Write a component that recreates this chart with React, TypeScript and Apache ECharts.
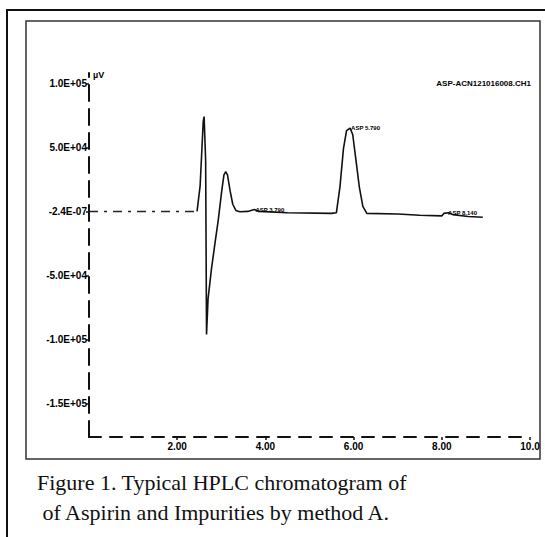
import React, { useEffect, useRef } from "react";
import * as echarts from "echarts";

// retention time (min) vs detector response (µV)
const baselineLead: [number, number][] = [
  [0, 0],
  [2.45, 0],
];

const trace: [number, number][] = [
  [2.45, 0], [2.52, 20000], [2.59, 70000], [2.61, 74000], [2.645, 40000],
  [2.665, -96000], [2.7, -68000], [2.78, -44000], [2.86, -24000], [2.93, -7000],
  [3.01, 16000], [3.06, 28500], [3.1, 31000], [3.14, 28500], [3.2, 16000],
  [3.26, 5600], [3.33, 800], [3.42, -200], [3.6, 0], [3.75, 1500], [3.85, 0],
  [4.5, -1000], [5.5, -1500], [5.61, -1000], [5.69, 19000], [5.77, 49000],
  [5.84, 63000], [5.92, 65000], [5.98, 60000], [6.05, 41000], [6.13, 19000],
  [6.21, 4000], [6.3, -1500], [7.0, -2000], [7.5, -3000], [8.0, -3500],
  [8.05, -1500], [8.15, -1000], [8.25, -2500], [8.6, -4000], [8.93, -4500],
];

const peakLabels: { name: string; t: number; v: number }[] = [
  { name: "ASP 3.790", t: 3.75, v: 1500 },
  { name: "ASP 5.790", t: 5.92, v: 65000 },
  { name: "ASP 8.140", t: 8.12, v: -1000 },
];

const yTickValues = [100000, 50000, 0, -50000, -100000, -150000];
const yTickLabels = ["1.0E+05", "5.0E+04", "-2.4E-07", "-5.0E+04", "-1.0E+05", "-1.5E+05"];
const xTickValues = [2, 4, 6, 8, 10];
const xTickLabels = ["2.00", "4.00", "6.00", "8.00", "10.0"];

const fileName = "ASP-ACN121016008.CH1";
const captionLines = [
  "Figure 1. Typical HPLC chromatogram of",
  " of Aspirin and Impurities by method A.",
];

const narrow = "'Liberation Sans Narrow', 'Arial Narrow', 'Liberation Sans', Arial, sans-serif";
const serif = "'Liberation Serif', 'DejaVu Serif', serif";

export default function App() {
  const ref = useRef<HTMLDivElement>(null);
  useEffect(() => {
    document.body.style.margin = "0";
    const chart = echarts.init(ref.current!, null, { renderer: "svg" });
    chart.setOption({
      animation: false,
      backgroundColor: "#ffffff",
      grid: { left: 89, right: 15, top: 73, bottom: 100, containLabel: false },
      xAxis: {
        type: "value",
        min: 0,
        max: 10,
        splitLine: { show: false },
        axisLine: { show: true, onZero: false, lineStyle: { color: "#111", width: 2, type: [12, 9] } },
        axisTick: { show: true, customValues: xTickValues, length: 3, lineStyle: { color: "#111", width: 1.5 } },
        axisLabel: {
          customValues: xTickValues,
          formatter: (v: number) => xTickLabels[xTickValues.indexOf(v)] ?? "",
          color: "#000",
          fontSize: 10,
          fontWeight: "bold",
          fontFamily: narrow,
          margin: 4,
        },
      },
      yAxis: {
        type: "value",
        min: -176000,
        max: 108000,
        name: "µV",
        nameLocation: "end",
        nameGap: -6,
        nameTextStyle: { align: "left", verticalAlign: "bottom", fontSize: 9, fontWeight: "bold", color: "#000", padding: [0, 0, 0, 4], fontFamily: narrow },
        splitLine: { show: false },
        axisLine: { show: true, onZero: false, lineStyle: { color: "#111", width: 2, type: [16, 8] } },
        axisTick: { show: true, customValues: yTickValues, length: 3, lineStyle: { color: "#111", width: 1.5 } },
        axisLabel: {
          customValues: yTickValues,
          formatter: (v: number) => yTickLabels[yTickValues.indexOf(v)] ?? "",
          color: "#000",
          fontSize: 10,
          fontWeight: "bold",
          fontFamily: narrow,
          margin: 2,
        },
      },
      series: [
        {
          type: "line",
          data: baselineLead,
          showSymbol: false,
          lineStyle: { color: "#222", width: 1.5, type: [9, 6, 3, 6] },
        },
        {
          type: "line",
          data: trace,
          showSymbol: false,
          smooth: false,
          lineStyle: { color: "#111", width: 1.6 },
          markPoint: {
            symbol: "circle",
            symbolSize: 0,
            label: {
              show: true,
              position: "right",
              distance: 1,
              formatter: (p: any) => p.name,
              fontSize: 6,
              fontWeight: "bold",
              color: "#000",
              fontFamily: narrow,
            },
            data: peakLabels.map((p) => ({ name: p.name, coord: [p.t, p.v] })),
          },
        },
      ],
      graphic: [
        { type: "rect", shape: { x: 7, y: 10, width: 560, height: 560 }, style: { fill: "none", stroke: "#111", lineWidth: 2 }, silent: true },
        { type: "rect", shape: { x: 26, y: 21, width: 514, height: 438 }, style: { fill: "none", stroke: "#333", lineWidth: 1.5 }, silent: true },
        {
          type: "text",
          x: 531,
          y: 83,
          style: { text: fileName, align: "right", verticalAlign: "middle", fontSize: 8, fontWeight: "bold", fill: "#000", fontFamily: narrow },
        },
        {
          type: "text",
          x: 37,
          y: 482,
          style: { text: captionLines[0], align: "left", verticalAlign: "middle", fontSize: 22, fill: "#111", fontFamily: serif },
        },
        {
          type: "text",
          x: 37,
          y: 512,
          style: { text: captionLines[1], align: "left", verticalAlign: "middle", fontSize: 22, fill: "#111", fontFamily: serif },
        },
      ],
    });
    return () => chart.dispose();
  }, []);
  return <div ref={ref} style={{ width: 545, height: 537 }} />;
}
